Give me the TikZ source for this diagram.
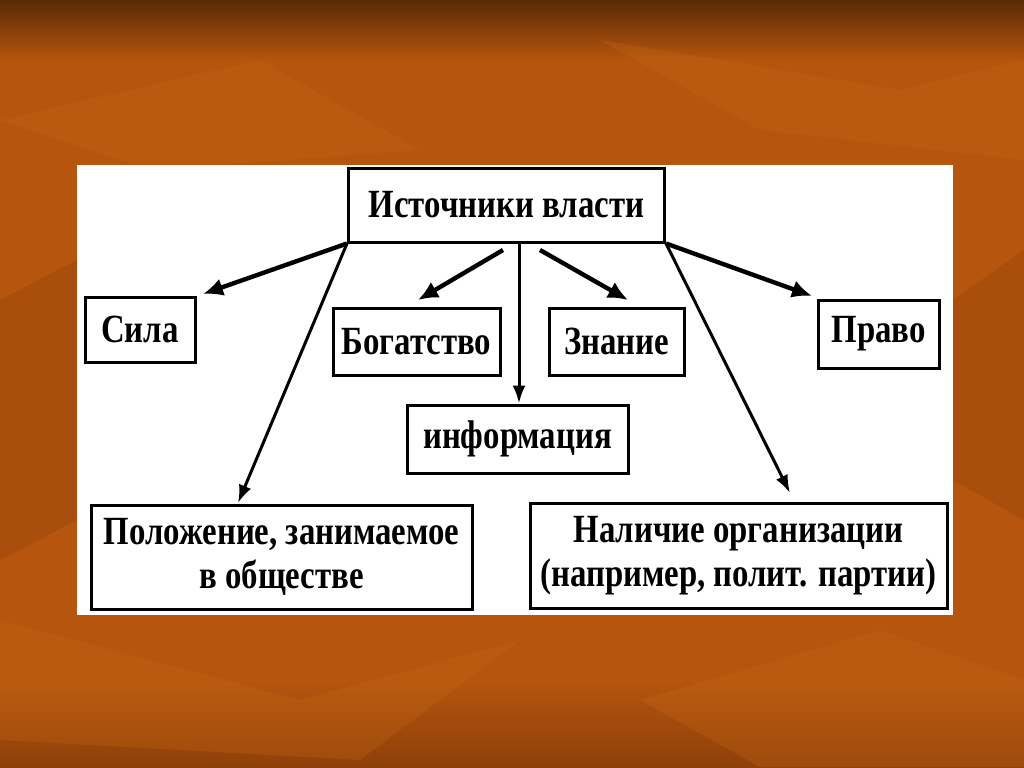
\documentclass[tikz,border=0pt]{standalone}
\usepackage{fontspec}
\setmainfont{Liberation Serif}[FakeStretch=0.82]
\usetikzlibrary{arrows.meta}

\definecolor{bgdark}{HTML}{5A2A05}
\definecolor{bgmid}{HTML}{B5550E}
\definecolor{bglight}{HTML}{CC6C16}
\definecolor{bglow}{HTML}{8E400A}

\tikzset{
	srcbox/.style={draw, line width=1.5pt, fill=white, inner sep=2pt, align=center,
		font=\bfseries\fontsize{20}{22}\selectfont},
	bigarrow/.style={line width=2.2pt, -{Latex[length=10pt,width=9pt]}},
	thinarrow/.style={line width=1.5pt, -{Latex[length=9pt,width=6.5pt]}},
	leaf/.style={fill=bglight, opacity=0.25}
}

\begin{document}
\begin{tikzpicture}[x=0.5pt,y=-0.5pt]
	\useasboundingbox (0,0) rectangle (1024,767);
	% background
	\fill[bgmid] (0,0) rectangle (1024,767);
	\shade[top color=bgdark, bottom color=bgmid] (0,0) rectangle (1024,60);
	\shade[top color=bgmid, bottom color=bglow] (0,680) rectangle (1024,767);
	\fill[leaf] (0,120) -- (260,60) -- (420,150) -- (150,170) -- cycle;
	\fill[leaf] (600,40) -- (900,90) -- (1024,60) -- (1024,160) -- (760,130) -- cycle;
	\fill[leaf] (0,620) -- (300,700) -- (520,640) -- (360,760) -- (0,740) -- cycle;
	\fill[leaf] (640,700) -- (880,630) -- (1024,680) -- (1024,767) -- (760,767) -- cycle;
	\fill[bglow, opacity=0.3] (953,300) -- (1024,250) -- (1024,520) -- (953,480) -- cycle;
	\fill[bglow, opacity=0.3] (0,300) -- (77,260) -- (77,520) -- (0,560) -- cycle;
	% panel
	\fill[white] (77,165) rectangle (953,615);

	\node[srcbox, minimum width=158pt, minimum height=37pt] (src) at (506.5,205) {Источники власти};
	\node[srcbox, minimum width=55pt, minimum height=32.5pt] (sila) at (140,329.5) {Сила};
	\node[srcbox, minimum width=83.5pt, minimum height=33.5pt] (bogat) at (416.5,341.5) {Богатство};
	\node[srcbox, minimum width=67.5pt, minimum height=33.5pt] (znanie) at (616.5,341.5) {Знание};
	\node[srcbox, minimum width=60.5pt, minimum height=34pt] (pravo) at (878.5,334) {Право};
	\node[srcbox, minimum width=110.5pt, minimum height=34pt] (info) at (517.5,439) {информация};
	\node[srcbox, minimum width=190.5pt, minimum height=52pt] (polozh) at (281.5,557) {Положение, занимаемое\\в обществе};
	\node[srcbox, minimum width=208.5pt, minimum height=52.5pt] (organiz) at (738.5,555.5) {Наличие организации\\(например, полит. партии)};

	\coordinate (silaTip) at (203,294);
	\coordinate (bogStart) at (503,250);
	\coordinate (bogTip) at (418,300);
	\coordinate (znStart) at (540,250);
	\coordinate (znTip) at (628,300);
	\coordinate (pravoTip) at (812,296);
	\coordinate (infStart) at (519,242);
	\coordinate (polTip) at (238,503);
	\coordinate (orgTip) at (790,493);

	\draw[bigarrow] (src.south west) -- (silaTip);
	\draw[bigarrow] (bogStart) -- (bogTip);
	\draw[bigarrow] (znStart) -- (znTip);
	\draw[bigarrow] (src.south east) -- (pravoTip);
	\draw[thinarrow] (infStart) -- (infStart |- info.north);
	\draw[thinarrow] (src.south west) -- (polTip);
	\draw[thinarrow] (src.south east) -- (orgTip);
\end{tikzpicture}
\end{document}
